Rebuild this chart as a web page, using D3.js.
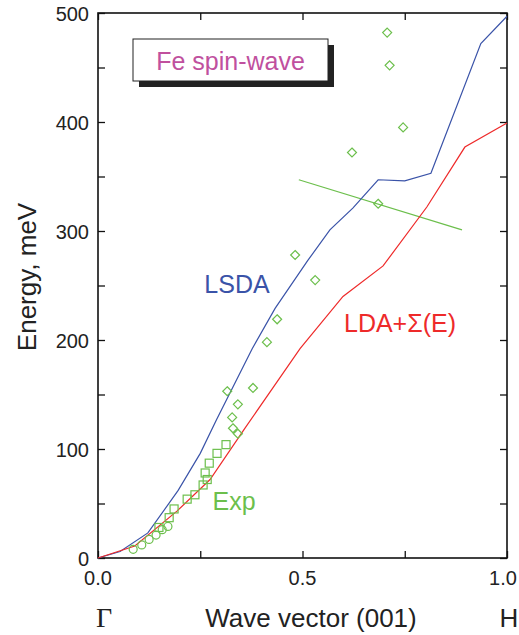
<!DOCTYPE html>
<html><head><meta charset="utf-8">
<script src="https://cdn.jsdelivr.net/npm/d3@7/dist/d3.min.js"></script>
<style>body{margin:0;background:#fff}svg{display:block}text{font-family:"Liberation Sans",Arial,sans-serif}</style>
</head><body><svg id="c" width="519" height="635"></svg>
<script>
const lsdaX = [0,0.054,0.122,0.196,0.25,0.29,0.377,0.433,0.513,0.567,0.623,0.685,0.75,0.814,0.936,1.0];
const lsdaE = [0,6,23,62,96,127,192,229,273,301,321,347,346,353,472,497];
const ldaX = [0,0.09,0.193,0.274,0.359,0.494,0.599,0.697,0.804,0.897,1.0];
const ldaE = [0,11,43,72,119,192,240,268,322,377,399];
const fitX = [0.491,0.89];
const fitE = [347,301];
const circX = [0.086,0.107,0.125,0.142,0.157,0.171];
const circE = [8,12,17,21,26,29];
const sqX = [0.149,0.174,0.186,0.218,0.237,0.257,0.267,0.262,0.272,0.291,0.313];
const sqE = [28,37,45,54,58,67,72,78,87,96,104];
const diaX = [0.342,0.33,0.328,0.342,0.316,0.379,0.413,0.438,0.482,0.531,0.621,0.685,0.707,0.713,0.746];
const diaE = [114,119,129,141,153,156,198,219,278,255,372,325,482,452,395];
const xTicks = [0,0.5,1.0];
const xTickLabels = ["0.0","0.5","1.0"];
const yTicks = [0,100,200,300,400,500];

const svg = d3.select("#c");
const L=98,R=507,T=13,B=558;
const x = d3.scaleLinear().domain([0,1]).range([L,R]);
const y = d3.scaleLinear().domain([0,500]).range([B,T]);
const blue="#3a53a8", red="#ee2a2a", green="#6cbf4c", pink="#c0509e";

svg.append("rect").attr("x",L).attr("y",T).attr("width",R-L).attr("height",B-T).attr("fill","none").attr("stroke","#111").attr("stroke-width",1.6);

const tl=7;
const axB = d3.axisBottom(x).tickValues([0,0.25,0.5,0.75,1]).tickSize(-tl).tickFormat("");
const axT = d3.axisTop(x).tickValues([0,0.25,0.5,0.75,1]).tickSize(-tl).tickFormat("");
const axL = d3.axisLeft(y).tickValues(d3.range(0,501,50)).tickSize(-tl).tickFormat("");
const axR = d3.axisRight(y).tickValues(d3.range(0,501,50)).tickSize(-tl).tickFormat("");
[[axB,`translate(0,${B})`],[axT,`translate(0,${T})`],[axL,`translate(${L},0)`],[axR,`translate(${R},0)`]].forEach(([a,t])=>{
  const g=svg.append("g").attr("transform",t).call(a);
  g.select(".domain").remove();
  g.selectAll("line").attr("stroke","#111").attr("stroke-width",1.3);
});
svg.append("g").selectAll("text").data(xTicks).join("text")
  .attr("x",d=>Math.min(x(d),503)).attr("y",585).attr("text-anchor","middle").attr("font-size",20).attr("fill","#222")
  .text((d,i)=>xTickLabels[i]);
svg.append("g").selectAll("text").data(yTicks).join("text")
  .attr("x",L-9).attr("y",d=>y(d)+7.5).attr("text-anchor","end").attr("font-size",20).attr("fill","#222")
  .text(d=>d);

svg.append("text").attr("transform","translate(36,277) rotate(-90)").attr("text-anchor","middle").attr("font-size",26).attr("fill","#222").text("Energy, meV");
svg.append("text").attr("x",311).attr("y",627).attr("text-anchor","middle").attr("font-size",26).attr("fill","#222").text("Wave vector (001)");
svg.append("text").attr("x",104).attr("y",627).attr("text-anchor","middle").attr("font-size",28).attr("fill","#222").style("font-family","'Liberation Serif','DejaVu Serif',serif").text("Γ");
svg.append("text").attr("x",509).attr("y",627).attr("text-anchor","middle").attr("font-size",26).attr("fill","#222").text("H");

const line = d3.line().x(d=>x(d[0])).y(d=>y(d[1]));
const plot = svg.append("g");
plot.append("path").datum(fitX.map((v,i)=>[v,fitE[i]])).attr("d",line).attr("fill","none").attr("stroke",green).attr("stroke-width",1.2);
plot.append("path").datum(lsdaX.map((v,i)=>[v,lsdaE[i]])).attr("d",line).attr("fill","none").attr("stroke",blue).attr("stroke-width",1.2);
plot.append("path").datum(ldaX.map((v,i)=>[v,ldaE[i]])).attr("d",line).attr("fill","none").attr("stroke",red).attr("stroke-width",1.2);

plot.selectAll("circle.c").data(circX.map((v,i)=>[v,circE[i]])).join("circle")
  .attr("cx",d=>x(d[0])).attr("cy",d=>y(d[1])).attr("r",4).attr("fill","none").attr("stroke",green).attr("stroke-width",1.2);
plot.selectAll("rect.s").data(sqX.map((v,i)=>[v,sqE[i]])).join("rect")
  .attr("x",d=>x(d[0])-4).attr("y",d=>y(d[1])-4).attr("width",8).attr("height",8).attr("fill","none").attr("stroke",green).attr("stroke-width",1.2);
plot.selectAll("path.d").data(diaX.map((v,i)=>[v,diaE[i]])).join("path")
  .attr("d",d=>`M${x(d[0])},${y(d[1])-4.5}l4.5,4.5l-4.5,4.5l-4.5,-4.5z`).attr("fill","none").attr("stroke",green).attr("stroke-width",1.2);

svg.append("text").attr("x",237).attr("y",293).attr("text-anchor","middle").attr("font-size",25).attr("fill",blue).text("LSDA");
svg.append("text").attr("x",400).attr("y",332).attr("text-anchor","middle").attr("font-size",25).attr("fill",red).text("LDA+Σ(E)");
svg.append("text").attr("x",234).attr("y",510).attr("text-anchor","middle").attr("font-size",25).attr("fill",green).text("Exp");

svg.append("rect").attr("x",139).attr("y",45).attr("width",195).attr("height",42).attr("fill","#222");
svg.append("rect").attr("x",133).attr("y",39).attr("width",195).attr("height",42).attr("fill","#fff").attr("stroke","#222").attr("stroke-width",1);
svg.append("text").attr("x",230.5).attr("y",70).attr("text-anchor","middle").attr("font-size",25).attr("fill",pink).text("Fe spin-wave");
</script></body></html>
